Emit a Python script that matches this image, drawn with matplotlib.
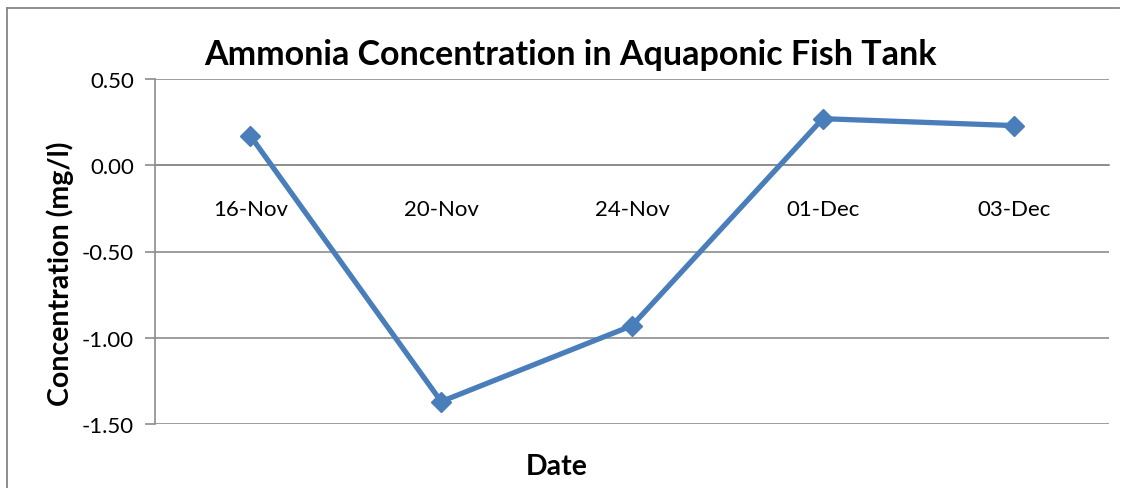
import matplotlib
matplotlib.use("Agg")
import matplotlib.pyplot as plt
from matplotlib.lines import Line2D

dates = ["16-Nov", "20-Nov", "24-Nov", "01-Dec", "03-Dec"]
ammonia = [0.17, -1.37, -0.93, 0.27, 0.23]
y_ticks = [0.50, 0.00, -0.50, -1.00, -1.50]

plt.rcParams["font.family"] = ["Lato", "DejaVu Sans"]

W, H = 1121, 489
fig = plt.figure(figsize=(W / 100, H / 100), dpi=100)

# outer chart frame: top and left edges (the rest runs off the canvas)
frame_kw = dict(transform=fig.transFigure, color="#868686", linewidth=1.3)
fig.lines.append(Line2D([7 / W, 1119 / W], [1 - 9 / H, 1 - 9 / H], **frame_kw))
fig.lines.append(Line2D([7 / W, 7 / W], [0.0, 1 - 9 / H], **frame_kw))

ax = fig.add_axes([155 / W, 1 - 425 / H, (1109 - 155) / W, (425 - 80) / H])

x = list(range(len(dates)))
ax.plot(x, ammonia, color="#4A7EBB", linewidth=3.8, marker="D",
        markersize=10.5, solid_joinstyle="round", zorder=3)

ax.set_xlim(-0.5, len(dates) - 0.5)
ax.set_ylim(-1.5, 0.5)

# category axis crosses the value axis at zero
ax.spines["bottom"].set_position(("data", 0))
ax.spines["bottom"].set_color("#8c8c8c")
ax.spines["bottom"].set_linewidth(1.2)
ax.spines["left"].set_color("#8c8c8c")
ax.spines["left"].set_linewidth(1.2)
ax.spines["top"].set_visible(False)
ax.spines["right"].set_visible(False)

ax.set_yticks(y_ticks)
ax.set_yticklabels([f"{v:.2f}" for v in y_ticks], fontsize=16)
ax.yaxis.grid(True, color="#8c8c8c", linewidth=1.2)
ax.set_axisbelow(True)

ax.set_xticks(x)
ax.set_xticklabels(dates, fontsize=16)
ax.tick_params(axis="x", length=0, pad=24)
ax.tick_params(axis="y", length=7, color="#8c8c8c", width=1.2, pad=8)

fig.text(570 / W, 1 - 55 / H, "Ammonia Concentration in Aquaponic Fish Tank",
         fontsize=24.5, fontweight="bold", ha="center", va="center")
fig.text(557 / W, 1 - 467 / H, "Date", fontsize=20.5, fontweight="bold",
         ha="center", va="center")
fig.text(60 / W, 1 - 274 / H, "Concentration (mg/l)", fontsize=20.5,
         fontweight="bold", ha="center", va="center", rotation=90)

fig.savefig("out.png", dpi=100, facecolor="white")
